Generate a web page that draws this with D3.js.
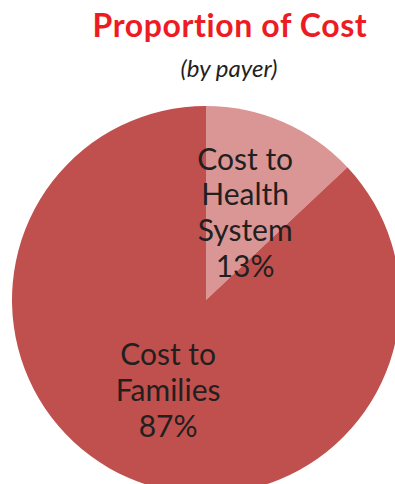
<!DOCTYPE html>
<html>
<head>
<meta charset="utf-8">
<script src="https://cdn.jsdelivr.net/npm/d3@7"></script>
<style>
  html, body { margin: 0; padding: 0; background: #fff; }
  svg { display: block; }
  text { font-variant-ligatures: none; }
</style>
</head>
<body>
<svg id="chart" width="395" height="484"></svg>
<script>
// Share of total cost by payer
const payers = ["Cost to Health System", "Cost to Families"];
const shares = [13, 87];
const labelLines = [["Cost to", "Health", "System", "13%"], ["Cost to", "Families", "87%"]];
const sliceColors = ["#d99694", "#c0504d"];

const W = 395, H = 484;
const cx = 206, cy = 300, R = 194;
const svg = d3.select("#chart");

svg.append("text")
  .attr("x", 230).attr("y", 37)
  .attr("text-anchor", "middle")
  .attr("font-family", "Lato, 'Open Sans', sans-serif")
  .attr("font-weight", 700)
  .attr("font-size", 32)
  .attr("letter-spacing", 0.6)
  .attr("fill", "#ed1c24")
  .text("Proportion of Cost");

svg.append("text")
  .attr("x", 229).attr("y", 77)
  .attr("text-anchor", "middle")
  .attr("font-family", "Lato, 'Open Sans', sans-serif")
  .attr("font-style", "italic")
  .attr("font-size", 24)
  .attr("fill", "#231f20")
  .text("(by payer)");

const data = payers.map((p, i) => ({ payer: p, value: shares[i], lines: labelLines[i], color: sliceColors[i] }));

const pie = d3.pie().value(d => d.value).sort(null);
const arc = d3.arc().innerRadius(0).outerRadius(R);
const arcs = pie(data);

const g = svg.append("g").attr("transform", `translate(${cx},${cy})`);

g.selectAll("path.slice")
  .data(arcs)
  .join("path")
  .attr("class", "slice")
  .attr("d", arc)
  .attr("fill", d => d.data.color);

// label radius: small slice keeps its text nearer the centre
const labelR = d => (d.endAngle - d.startAngle) < Math.PI ? 86 : 108;
const lineH = 35.7;

g.selectAll("text.lbl")
  .data(arcs)
  .join("text")
  .attr("class", "lbl")
  .attr("text-anchor", "middle")
  .attr("font-family", "Lato, 'Open Sans', sans-serif")
  .attr("font-size", 30)
  .attr("fill", "#231f20")
  .each(function (d) {
    const [lx, ly] = d3.arc().innerRadius(labelR(d)).outerRadius(labelR(d)).centroid(d);
    const n = d.data.lines.length;
    const t = d3.select(this);
    d.data.lines.forEach((line, i) => {
      t.append("tspan")
        .attr("x", lx + 5)
        .attr("y", ly + (i - (n - 1) / 2) * lineH + 2)
        .text(line);
    });
  });
</script>
</body>
</html>
